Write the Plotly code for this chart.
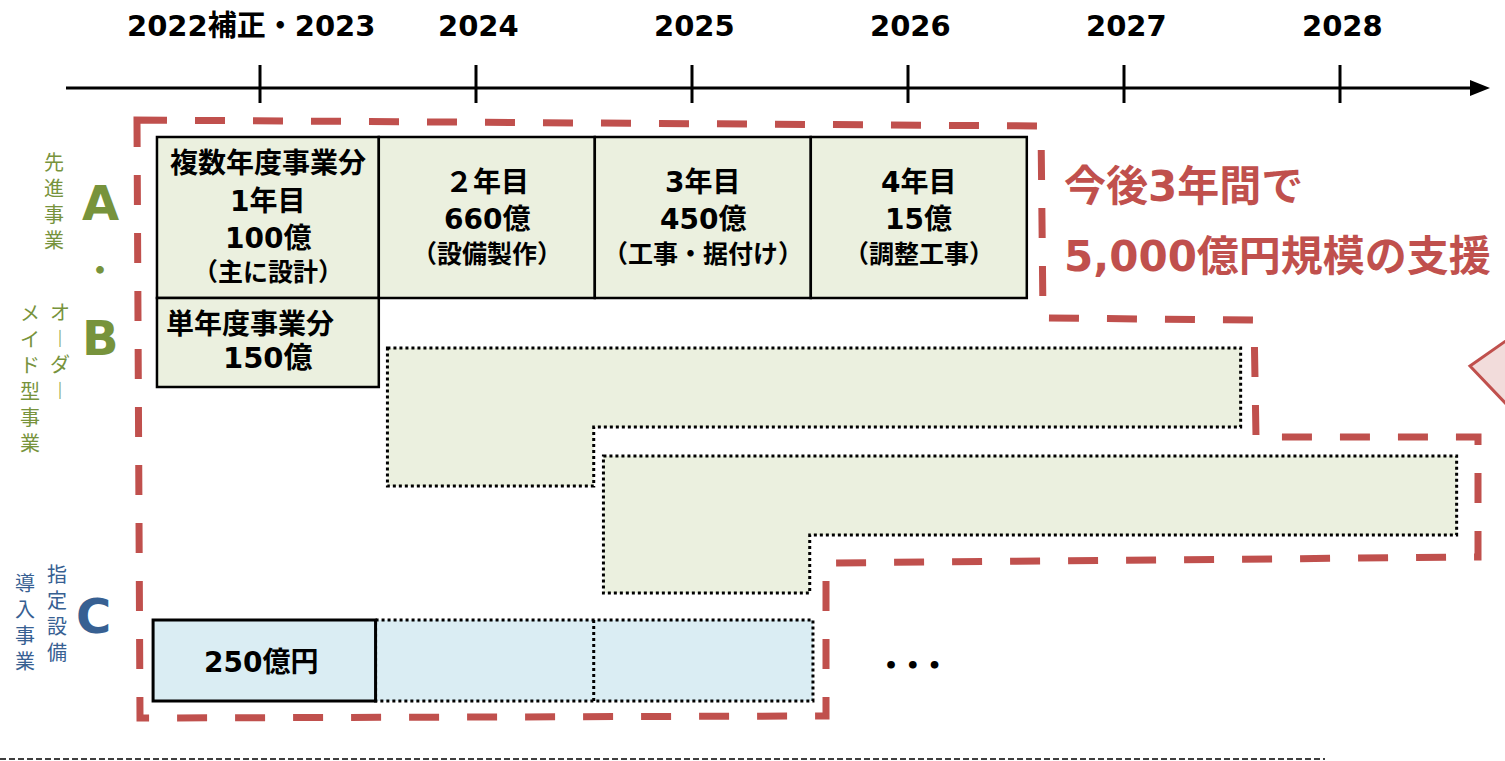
import plotly.graph_objects as go

# ---------------- data ----------------
YEARS = [2023, 2024, 2025, 2026, 2027, 2028]
YEAR_LABELS = ["2022補正・2023", "2024", "2025", "2026", "2027", "2028"]

A_HEAD = "複数年度事業分"
A_STEPS = ["1年目", "２年目", "3年目", "4年目"]
A_AMOUNTS = ["100億", "660億", "450億", "15億"]
A_NOTES = ["（主に設計）", "（設備製作）", "（工事・据付け）", "（調整工事）"]

B_LABEL = "単年度事業分"
B_AMOUNT = "150億"
C_AMOUNT = "250億円"
HEADLINE = ["今後3年間で", "5,000億円規模の支援"]

LABEL_A = "先進事業"
LABEL_B = ["オ︱ダ︱", "メイド型事業"]
LABEL_C = ["指定設備", "導入事業"]
LETTERS = ["A", "・", "B", "C"]

# ---------------- style ----------------
W, H = 1505, 761
PX_PER_YEAR = 216.0
ORIGIN_PX = 260.0
OLIVE = "#EBF0DF"
BLUE_FILL = "#DAEDF3"
RED = "#C0504D"
GREEN = "#77933C"
BLUE_TXT = "#376092"
PINK = "#F2DCDB"
CJK = "Noto Sans CJK JP"
MIX = "DejaVu Sans, Noto Sans CJK JP"


def X(px):
    """convert a horizontal page position to timeline (year) units"""
    return YEARS[0] + (px - ORIGIN_PX) / PX_PER_YEAR


fig = go.Figure()
shapes = []
ann = []


def text(x, y, s, size, color="black", family=MIX, bold=True, xanchor="center", angle=0):
    ann.append(dict(x=x, y=y, xref="x", yref="y", text=("<b>%s</b>" % s) if bold else s,
                    showarrow=False, xanchor=xanchor, yanchor="middle", textangle=angle,
                    font=dict(size=size, color=color, family=family)))


def rect(x0, x1, y0, y1, fill, lw, dash="solid", color="black"):
    shapes.append(dict(type="rect", xref="x", yref="y", x0=x0, x1=x1, y0=y0, y1=y1,
                       fillcolor=fill, line=dict(color=color, width=lw, dash=dash), layer="above"))


def path(pts, fill=None, lw=2, dash="solid", color="black", closed=True):
    d = "M " + " L ".join("%f,%f" % p for p in pts) + (" Z" if closed else "")
    shapes.append(dict(type="path", xref="x", yref="y", path=d,
                       fillcolor=fill if fill else "rgba(0,0,0,0)",
                       line=dict(color=color, width=lw, dash=dash), layer="above"))


# ---------------- timeline axis ----------------
AX_Y = 88
shapes.append(dict(type="line", xref="x", yref="y", x0=X(66), x1=X(1478), y0=AX_Y, y1=AX_Y,
                   line=dict(color="black", width=3)))
path([(X(1470), AX_Y - 8), (X(1490), AX_Y), (X(1470), AX_Y + 8)], fill="black", lw=0)
for i, yr in enumerate(YEARS):
    shapes.append(dict(type="line", xref="x", yref="y", x0=yr, x1=yr, y0=65, y1=103,
                       line=dict(color="black", width=3)))
    tx = yr - 0.04 if i == 0 else yr + 0.01
    text(tx, 26, YEAR_LABELS[i], 29)

# ---------------- A: multi-year cells ----------------
col_left = [YEARS[0] - 0.477] + [y - 0.45 for y in YEARS[1:4]]
col_right = [y - 0.45 for y in YEARS[1:5]]
ROW1_TOP, ROW1_BOT, ROW2_BOT = 137, 298, 387
for i in range(4):
    rect(col_left[i], col_right[i], ROW1_TOP, ROW1_BOT, OLIVE, 2.5)
    cx = (col_left[i] + col_right[i]) / 2
    if i == 0:
        text(cx, 163, A_HEAD, 28)
        text(cx, 201, A_STEPS[i], 28)
        text(cx, 238, A_AMOUNTS[i], 28)
        text(cx, 272, A_NOTES[i], 25)
    else:
        text(cx, 182, A_STEPS[i], 28)
        text(cx, 219, A_AMOUNTS[i], 28)
        text(cx, 254, A_NOTES[i], 25)

# ---------------- B: single-year cell ----------------
rect(col_left[0], col_right[0], ROW1_BOT, ROW2_BOT, OLIVE, 2.5)
text(X(164), 324, B_LABEL, 28, xanchor="left")
text(X(268), 358, B_AMOUNT, 29)

# future (dotted) stepped blocks
for k, (yt, ym, yb) in enumerate([(348, 427, 486), (456, 535, 593)]):
    xa = YEARS[1 + k] - 0.41
    xm = YEARS[2 + k] - 0.455
    xb = YEARS[5] - 0.46 + k * 1.0
    path([(xa, yt), (xb, yt), (xb, ym), (xm, ym), (xm, yb), (xa, yb)],
         fill=OLIVE, lw=3, dash="dot")

# ---------------- C row ----------------
C_TOP, C_BOT = 620, 701
rect(col_right[0] - 0.015, YEARS[2] + 0.56, C_TOP, C_BOT, BLUE_FILL, 3, dash="dot")
shapes.append(dict(type="line", xref="x", yref="y", x0=YEARS[1] + 0.545, x1=YEARS[1] + 0.545,
                   y0=C_TOP, y1=C_BOT, line=dict(color="black", width=3, dash="dot")))
rect(col_left[0] - 0.018, col_right[0] - 0.015, C_TOP, C_BOT, BLUE_FILL, 3)
text((col_left[0] + col_right[0]) / 2 - 0.03, 662, C_AMOUNT, 28)
text(X(913), 665, "• • •", 22)

# ---------------- red dashed frame ----------------
red_pts = [(137, 120), (1041, 126), (1043, 318), (1254, 320), (1256, 437), (1478, 437),
           (1478, 557), (826, 563), (826, 716), (140, 718)]
path([(X(px), py) for px, py in red_pts], lw=7, dash="30px,28px", color=RED)

# headline
text(X(1062), 186, HEADLINE[0], 42, color=RED, xanchor="left")
text(X(1062), 256, HEADLINE[1], 42, color=RED, xanchor="left")

# pink callout tip
path([(X(1470), 366), (X(1510), 338), (X(1510), 408)], fill=PINK, lw=3, color=RED)

# ---------------- left side labels (vertical writing) ----------------
def vertical(s, cx, cy, size, color):
    text(X(cx), cy, "<br>".join(s), size, color=color, family=CJK, bold=False)


vertical(LABEL_A, 54, 200, 20, GREEN)
vertical(LABEL_B[0], 60, 350, 20, GREEN)
vertical(LABEL_B[1], 30, 377, 20, GREEN)
vertical(LABEL_C[0], 57, 612, 20, BLUE_TXT)
vertical(LABEL_C[1], 25, 621, 20, BLUE_TXT)
text(X(100), 203, LETTERS[0], 48, color=GREEN, family="DejaVu Sans")
text(X(100), 268, LETTERS[1], 30, color=GREEN, family=CJK)
text(X(100), 338, LETTERS[2], 48, color=GREEN, family="DejaVu Sans")
text(X(93), 616, LETTERS[3], 48, color=BLUE_TXT, family="DejaVu Sans")

# bottom separator
shapes.append(dict(type="line", xref="x", yref="y", x0=X(0), x1=X(1325), y0=759, y1=759,
                   line=dict(color="black", width=1.5, dash="6px,3px")))

fig.update_layout(
    width=W, height=H, margin=dict(l=0, r=0, t=0, b=0),
    paper_bgcolor="white", plot_bgcolor="white",
    xaxis=dict(range=[X(0), X(W)], visible=False, fixedrange=True),
    yaxis=dict(range=[H, 0], visible=False, fixedrange=True),
    shapes=shapes, annotations=ann, showlegend=False,
)
fig.write_html("out.html", config={"displayModeBar": False},
               post_script="document.body.style.margin='0';document.body.style.overflow='hidden';")
